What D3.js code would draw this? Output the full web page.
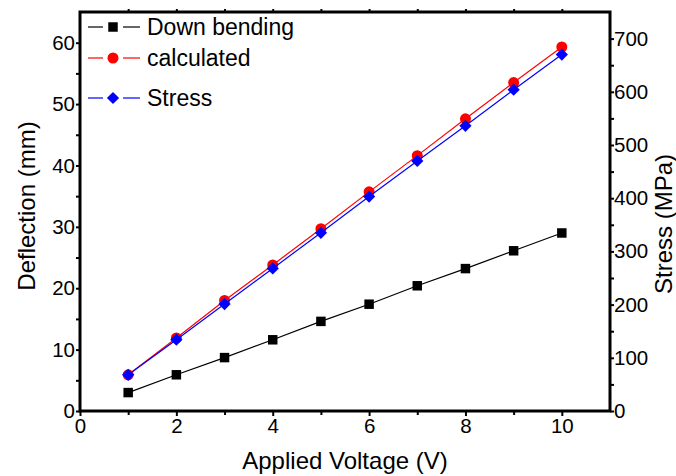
<!DOCTYPE html>
<html>
<head>
<meta charset="utf-8">
<script src="https://cdn.jsdelivr.net/npm/d3@7"></script>
<style>
  body { margin: 0; background: #fff; }
  text { font-family: "Liberation Sans", Arial, sans-serif; fill: #000; }
</style>
</head>
<body>
<div id="chart"></div>
<script>
// 数据
const voltage = [1, 2, 3, 4, 5, 6, 7, 8, 9, 10]
const downBending = [3.0, 5.9, 8.7, 11.6, 14.6, 17.4, 20.4, 23.2, 26.1, 29.0]
const calculated = [5.9, 11.9, 18.0, 23.8, 29.7, 35.7, 41.6, 47.6, 53.5, 59.3]
const stress = [68, 134, 201, 268, 335, 403, 470, 536, 604, 670]

const xTicks = [0, 2, 4, 6, 8, 10]
const leftTicks = [0, 10, 20, 30, 40, 50, 60]
const rightTicks = [0, 100, 200, 300, 400, 500, 600, 700]

const width = 676
const height = 476
const margin = { top: 12, right: 66, bottom: 65, left: 80 }

const svg = d3.select('#chart').append('svg')
  .attr('width', width)
  .attr('height', height)

const x = d3.scaleLinear().domain([0, 11]).range([margin.left, width - margin.right])
const yL = d3.scaleLinear().domain([0, 65]).range([height - margin.bottom, margin.top])
const yR = d3.scaleLinear().domain([0, 750]).range([height - margin.bottom, margin.top])

const x0 = x.range()[0]
const x1 = x.range()[1]
const yB = yL.range()[0]
const yT = yL.range()[1]

// 坐标轴样式
function styleAxis (g) {
  g.select('.domain').remove()
  g.selectAll('.tick line').attr('stroke', '#000').attr('stroke-width', 2)
  g.selectAll('.tick text').style('font-size', '20.5px')
}

// 次刻度
svg.append('g').attr('transform', `translate(0,${yB})`)
  .call(d3.axisBottom(x).tickValues(d3.range(1, 11, 2)).tickSize(4).tickFormat(''))
  .call(styleAxis)
svg.append('g').attr('transform', `translate(0,${yT})`)
  .call(d3.axisTop(x).tickValues(d3.range(1, 11)).tickSize(3).tickFormat(''))
  .call(styleAxis)
svg.append('g').attr('transform', `translate(${x0},0)`)
  .call(d3.axisLeft(yL).tickValues(d3.range(5, 65, 10)).tickSize(4).tickFormat(''))
  .call(styleAxis)
svg.append('g').attr('transform', `translate(${x1},0)`)
  .call(d3.axisRight(yR).tickValues(d3.range(50, 750, 100)).tickSize(4).tickFormat(''))
  .call(styleAxis)

// 主刻度
svg.append('g').attr('transform', `translate(0,${yB})`)
  .call(d3.axisBottom(x).tickValues(xTicks).tickSize(5).tickPadding(2).tickFormat(d3.format('d')))
  .call(styleAxis)
svg.append('g').attr('transform', `translate(${x0},0)`)
  .call(d3.axisLeft(yL).tickValues(leftTicks).tickSize(4).tickPadding(1).tickFormat(d3.format('d')))
  .call(styleAxis)
svg.append('g').attr('transform', `translate(${x1},0)`)
  .call(d3.axisRight(yR).tickValues(rightTicks).tickSize(4).tickPadding(0).tickFormat(d3.format('d')))
  .call(styleAxis)

// 边框
svg.append('rect')
  .attr('x', x0).attr('y', yT)
  .attr('width', x1 - x0).attr('height', yB - yT)
  .attr('fill', 'none').attr('stroke', '#000').attr('stroke-width', 3)

// 轴标题
svg.append('text')
  .attr('x', 345).attr('y', 469)
  .attr('text-anchor', 'middle').style('font-size', '24px')
  .text('Applied Voltage (V)')
svg.append('text')
  .attr('transform', 'translate(35,206) rotate(-90)')
  .attr('text-anchor', 'middle').style('font-size', '24px')
  .text('Deflection (mm)')
svg.append('text')
  .attr('transform', 'translate(672,224) rotate(-90)')
  .attr('text-anchor', 'middle').style('font-size', '24px')
  .text('Stress (MPa)')

// 系列
const series = [
  { name: 'Down bending', values: downBending, y: yL, color: '#000', symbol: d3.symbolSquare, size: 90, rot: 0 },
  { name: 'calculated', values: calculated, y: yL, color: '#ff0000', symbol: d3.symbolCircle, size: 95, rot: 0 },
  { name: 'Stress', values: stress, y: yR, color: '#0000ff', symbol: d3.symbolSquare, size: 75, rot: 45 }
]

series.forEach((s) => {
  const pts = voltage.map((v, i) => [x(v), s.y(s.values[i])])
  svg.append('path')
    .attr('d', d3.line()(pts))
    .attr('fill', 'none')
    .attr('stroke', s.color)
    .attr('stroke-width', 1.2)
  svg.append('g').selectAll('path')
    .data(pts)
    .join('path')
    .attr('transform', (d) => `translate(${d[0]},${d[1]}) rotate(${s.rot})`)
    .attr('d', d3.symbol().type(s.symbol).size(s.size))
    .attr('fill', s.color)
})

// 图例
const legendY = [27, 58, 98]
series.forEach((s, i) => {
  const g = svg.append('g').attr('transform', `translate(88,${legendY[i]})`)
  g.append('line').attr('x1', 0).attr('x2', 15)
    .attr('stroke', s.color).attr('stroke-width', 1.2)
  g.append('line').attr('x1', 35).attr('x2', 52)
    .attr('stroke', s.color).attr('stroke-width', 1.2)
  g.append('path')
    .attr('transform', `translate(25,0) rotate(${s.rot})`)
    .attr('d', d3.symbol().type(s.symbol).size(s.size))
    .attr('fill', s.color)
  g.append('text')
    .attr('x', 59).attr('y', 8)
    .style('font-size', '23px')
    .text(s.name)
})
</script>
</body>
</html>
